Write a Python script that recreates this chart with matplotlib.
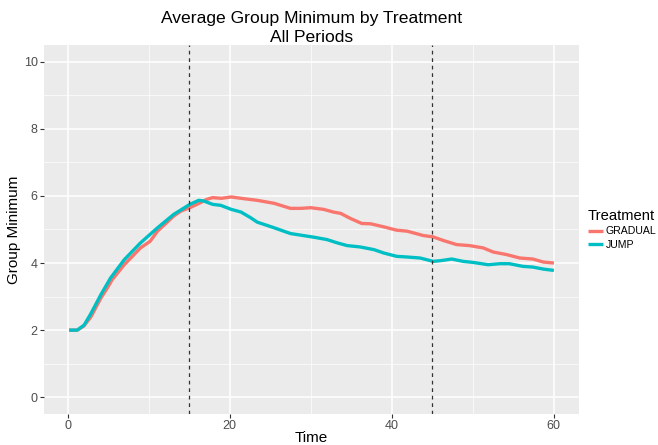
import matplotlib
matplotlib.use('Agg')
import matplotlib.pyplot as plt
from matplotlib.ticker import MultipleLocator

# data
time_gradual = [0.2, 1.2, 2.0, 2.9, 4.1, 4.9, 5.5, 7.0, 8.0, 9.0, 10.2, 11.1, 12.0, 13.1, 14.0,
                15.1, 16.4, 17.2, 17.9, 19.0, 20.2, 21.4, 23.4, 25.5, 27.5, 28.8, 30.0, 31.6,
                32.8, 33.7, 34.9, 36.3, 37.4, 39.0, 40.6, 41.9, 43.9, 45.1, 46.4, 48.0, 49.6,
                51.3, 52.5, 54.2, 55.8, 57.4, 58.7, 60.0]
gradual = [2.0, 2.0, 2.12, 2.4, 2.95, 3.25, 3.5, 3.95, 4.2, 4.45, 4.65, 4.95, 5.15, 5.4, 5.55,
           5.65, 5.8, 5.9, 5.95, 5.93, 5.97, 5.93, 5.87, 5.78, 5.63, 5.63, 5.65, 5.6,
           5.52, 5.48, 5.33, 5.18, 5.17, 5.08, 4.98, 4.95, 4.82, 4.78, 4.67, 4.55, 4.52,
           4.45, 4.33, 4.25, 4.15, 4.12, 4.03, 4.0]

time_jump = [0.2, 1.2, 2.05, 2.9, 4.1, 5.3, 7.0, 9.0, 11.1, 13.1, 15.1, 16.2, 16.8, 17.9, 18.9,
             20.2, 21.4, 22.6, 23.4, 25.5, 27.5, 28.8, 30.4, 32.0, 33.3, 34.5, 36.1, 37.8,
             39.0, 40.6, 41.9, 43.5, 45.1, 46.0, 47.4, 48.8, 50.0, 51.9, 53.3, 54.5, 56.2,
             57.4, 58.7, 60.0]
jump = [2.0, 2.0, 2.15, 2.5, 3.05, 3.55, 4.1, 4.6, 5.05, 5.45, 5.75, 5.87, 5.85, 5.75, 5.72,
        5.6, 5.52, 5.35, 5.22, 5.05, 4.88, 4.83, 4.77, 4.7, 4.6, 4.52, 4.48, 4.4,
        4.3, 4.2, 4.18, 4.15, 4.05, 4.07, 4.12, 4.05, 4.02, 3.95, 3.98, 3.98, 3.9,
        3.88, 3.82, 3.78]

treatments = ['GRADUAL', 'JUMP']
colors = ['#F8766D', '#00BFC4']
vlines = [15, 45]

plt.rcParams['font.family'] = ['Liberation Sans', 'DejaVu Sans']

fig = plt.figure(figsize=(6.58, 4.45), dpi=100)
ax = fig.add_axes([44 / 658, 1 - 414 / 445, (579 - 44) / 658, (414 - 45) / 445])
ax.set_facecolor('#EBEBEB')
for s in ax.spines.values():
    s.set_visible(False)

ax.plot(time_gradual, gradual, color=colors[0], lw=2.4, label=treatments[0], solid_capstyle='butt')
ax.plot(time_jump, jump, color=colors[1], lw=2.4, label=treatments[1], solid_capstyle='butt')
for v in vlines:
    ax.axvline(v, color='#333333', lw=0.9, ls=(0, (3, 3)))

ax.set_xlim(-2.9, 63.1)
ax.set_ylim(-0.5, 10.5)
ax.xaxis.set_major_locator(MultipleLocator(20))
ax.xaxis.set_minor_locator(MultipleLocator(10))
ax.yaxis.set_major_locator(MultipleLocator(2))
ax.yaxis.set_minor_locator(MultipleLocator(1))
ax.grid(which='major', color='white', lw=1.1)
ax.grid(which='minor', color='white', lw=0.5)
ax.set_axisbelow(True)
ax.tick_params(which='major', length=3, color='#333333', labelcolor='#4D4D4D', labelsize=9, pad=1.5)
ax.tick_params(which='minor', length=0)

ax.set_xlabel('Time', fontsize=11, labelpad=-1)
ax.set_ylabel('Group Minimum', fontsize=11, labelpad=2)
ax.set_title('Average Group Minimum by Treatment\nAll Periods', fontsize=12.6, linespacing=1.3, pad=0)

leg = ax.legend(title='Treatment', loc='center left', bbox_to_anchor=(1.005, 0.5),
                frameon=False, fontsize=7.6, title_fontsize=10.6, handlelength=1.4,
                handletextpad=0.3, labelspacing=0.3, borderaxespad=0.2)
leg._legend_box.align = 'left'

fig.savefig('out.png', dpi=100)
